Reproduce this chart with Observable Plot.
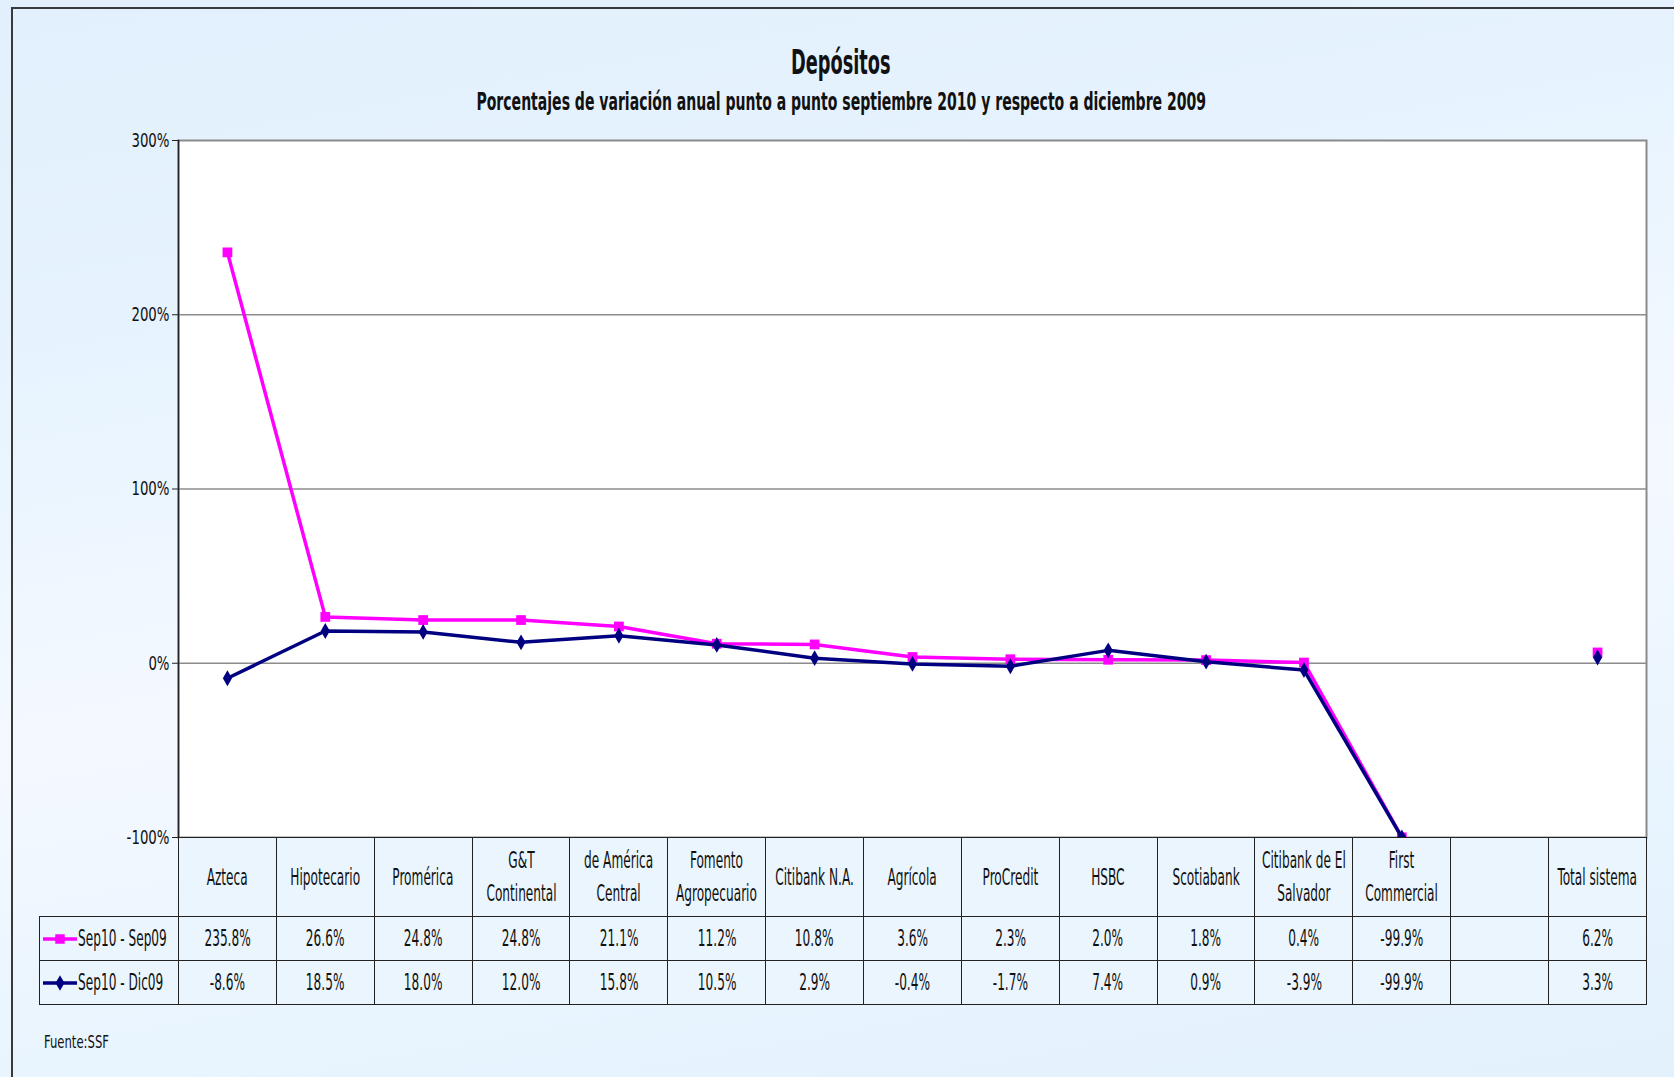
<!DOCTYPE html>
<html>
<head>
<meta charset="utf-8">
<script src="https://cdn.jsdelivr.net/npm/d3@7"></script>
<script src="https://cdn.jsdelivr.net/npm/@observablehq/plot@0.6"></script>
<style>
  html, body { margin: 0; padding: 0; }
  body { width: 1674px; height: 1077px; overflow: hidden;
    background: linear-gradient(170deg, #e2f0fd 0%, #e6f3fe 25%, #f4f9ff 55%, #e8f4fe 80%, #e3f1fd 100%);
    font-family: 'Liberation Sans Narrow', 'Arial Narrow', 'DejaVu Sans Condensed', 'Liberation Sans', sans-serif; color: #111; }
  #page { position: relative; width: 1674px; height: 1077px; }
  #border { position: absolute; left: 11px; top: 7px; right: -4px; bottom: -4px;
    border-left: 2px solid #3a3a3a; border-top: 2px solid #3a3a3a; }
  .sq { display: inline-block; transform: scaleX(0.6); transform-origin: center; white-space: nowrap; flex: none; }
  .fc { display: flex; justify-content: center; align-items: center; width: 100%; }
  #title { position: absolute; left: 0; width: 1682px; top: 42px; text-align: center; font-weight: bold; font-size: 34px; line-height: 40px; }
  #subtitle { position: absolute; left: 0; width: 1682px; top: 88px; text-align: center; font-weight: bold; font-size: 24px; line-height: 28px; }
  #chart { position: absolute; left: 0; top: 120px; }
  #tbl { position: absolute; left: 39px; top: 837px; border-collapse: collapse; table-layout: fixed; font-size: 22.5px; }
  #tbl td { border: 1.5px solid #222; text-align: center; padding: 0; background: #eaf5fe; line-height: 33px; white-space: nowrap; }
  #tbl td.blank { border: none; border-right: 1.5px solid #222; background: transparent; }
  #tbl td.leg { text-align: left; padding-left: 2px; }
  #tbl tr.h td { height: 78px; }
  #tbl tr.r td { height: 43px; }
  #fuente { position: absolute; left: 44px; top: 1032px; font-size: 17px; }
</style>
</head>
<body>
<div id="page">
  <div id="border"></div>
  <div id="title"><span class="sq" style="transform:scaleX(0.58)">Depósitos</span></div>
  <div id="subtitle"><span class="sq" style="transform:scaleX(0.65)">Porcentajes de variación anual punto a punto septiembre 2010 y respecto a diciembre 2009</span></div>
  <div id="chart"></div>
  <table id="tbl"></table>
  <div id="fuente"><span class="sq" style="transform-origin:left; transform:scaleX(0.76)">Fuente:SSF</span></div>
</div>
<script>
// ---- data ----
const categories = ["Azteca", "Hipotecario", "Promérica", "G&T Continental", "de América Central",
  "Fomento Agropecuario", "Citibank N.A.", "Agrícola", "ProCredit", "HSBC", "Scotiabank",
  "Citibank de El Salvador", "First Commercial", "", "Total sistema"];
const headerLabels = ["Azteca", "Hipotecario", "Promérica", "G&T\nContinental", "de América\nCentral",
  "Fomento\nAgropecuario", "Citibank N.A.", "Agrícola", "ProCredit", "HSBC", "Scotiabank",
  "Citibank de El\nSalvador", "First\nCommercial", "", "Total sistema"];
const seriesNames = ["Sep10 - Sep09", "Sep10 - Dic09"];
const sepSep09 = [235.8, 26.6, 24.8, 24.8, 21.1, 11.2, 10.8, 3.6, 2.3, 2.0, 1.8, 0.4, -99.9, null, 6.2];
const sepDic09 = [-8.6, 18.5, 18.0, 12.0, 15.8, 10.5, 2.9, -0.4, -1.7, 7.4, 0.9, -3.9, -99.9, null, 3.3];
const yTicks = [-100, 0, 100, 200, 300];
const gridValues = [0, 100, 200];
const colors = ["#ff00ff", "#000080"];

// ---- build ----
const d1 = categories.map((c, i) => ({cat: c, v: sepSep09[i]}));
const d2 = categories.map((c, i) => ({cat: c, v: sepDic09[i]}));

const W = 1674, mL = 178, mR = 28;
const font = "'Liberation Sans Narrow', 'Arial Narrow', 'DejaVu Sans Condensed', sans-serif";
const pct = v => (v < 0 ? "-" : "") + d3.format(".1f")(Math.abs(v)) + "%";

const chart = Plot.plot({
  width: W,
  height: 737,
  marginLeft: mL,
  marginRight: mR,
  marginTop: 20,
  marginBottom: 20,
  style: {background: "transparent", fontFamily: font, fontSize: "20px", color: "#111", overflow: "visible"},
  x: {type: "point", domain: categories, padding: 0.5, round: false, axis: null},
  y: {domain: [-100, 300], axis: null, label: null},
  marks: [
    Plot.frame({fill: "white", stroke: "#8a8a8a", strokeWidth: 2}),
    Plot.ruleY(gridValues, {stroke: "#8c8c8c", strokeWidth: 1.6}),
    Plot.frame({anchor: "left", stroke: "#222", strokeWidth: 1.5}),
    Plot.axisY({ticks: yTicks, tickFormat: d => (d < 0 ? "-" + Math.abs(d) : d) + "%", tickSize: 6, tickPadding: 3, stroke: "#222", label: null}),
    Plot.line(d1, {x: "cat", y: "v", stroke: colors[0], strokeWidth: 3.5}),
    Plot.dot(d1, {x: "cat", y: "v", symbol: "square", r: 5.5, fill: colors[0], stroke: "none"}),
    Plot.line(d2, {x: "cat", y: "v", stroke: colors[1], strokeWidth: 3.5}),
    Plot.dot(d2, {x: "cat", y: "v", symbol: "diamond", r: 4.8, fill: colors[1], stroke: "none"})
  ]
});
document.getElementById("chart").appendChild(chart);
// condense the axis labels horizontally (narrow font look), keeping their anchors
d3.select(chart).selectAll("text").each(function() {
  const len = this.getComputedTextLength();
  if (len > 0) {
    this.setAttribute("textLength", (len * 0.74).toFixed(1));
    this.setAttribute("lengthAdjust", "spacingAndGlyphs");
  }
});

// ---- data table below the chart ----
const colW = (W - mL - mR) / categories.length;
const firstW = mL - 39;
const tbl = d3.select("#tbl").style("width", (firstW + colW * categories.length) + "px");
const cg = tbl.append("colgroup");
cg.append("col").style("width", firstW + "px");
categories.forEach(() => cg.append("col").style("width", colW + "px"));

const hr = tbl.append("tr").attr("class", "h");
hr.append("td").attr("class", "blank");
headerLabels.forEach(l => {
  hr.append("td").append("div").attr("class", "fc").append("span").attr("class", "sq")
    .html(l.split("\n").map(s => s.replace(/&/g, "&amp;")).join("<br>"));
});

function legendIcon(color, symbol) {
  const s = d3.create("svg").attr("width", 36).attr("height", 16).style("vertical-align", "middle").style("flex", "none");
  s.append("line").attr("x1", 1).attr("x2", 35).attr("y1", 8).attr("y2", 8)
    .attr("stroke", color).attr("stroke-width", 3.5);
  s.append("path").attr("transform", "translate(18,8)")
    .attr("d", d3.symbol(symbol === "square" ? d3.symbolSquare : d3.symbolDiamond, symbol === "square" ? 90 : 70)())
    .attr("fill", color);
  return s.node();
}

[[sepSep09, "square"], [sepDic09, "diamond"]].forEach(([vals, sym], k) => {
  const r = tbl.append("tr").attr("class", "r");
  const lc = r.append("td").attr("class", "leg").append("div").style("display", "flex").style("align-items", "center");
  lc.node().appendChild(legendIcon(colors[k], sym));
  lc.append("span").attr("class", "sq").style("transform-origin", "left").text(seriesNames[k]);
  vals.forEach(v => r.append("td").append("div").attr("class", "fc").append("span").attr("class", "sq").text(v == null ? "" : pct(v)));
});
</script>
</body>
</html>
